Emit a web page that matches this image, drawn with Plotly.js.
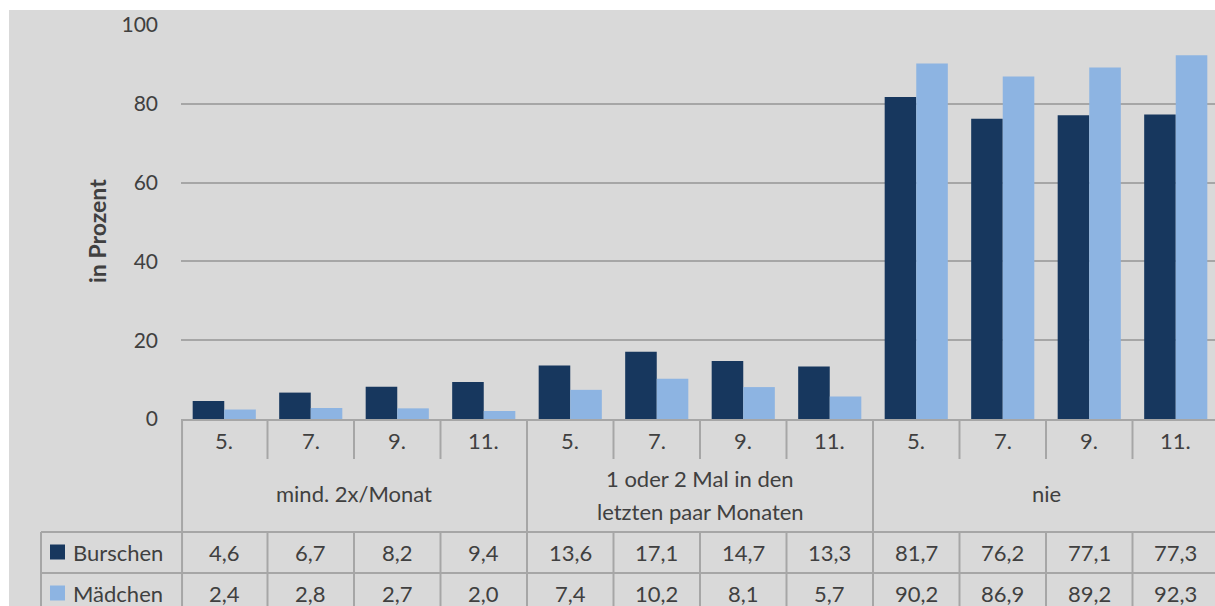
<!DOCTYPE html>
<html>
<head>
<meta charset="utf-8">
<script src="https://cdn.plot.ly/plotly-3.0.1.min.js"></script>
<style>html,body{margin:0;padding:0;background:#fff;}#chart{width:1215px;height:606px;}</style>
</head>
<body>
<div id="chart"></div>
<script>
// ---- data ----
const grades = ["5.", "7.", "9.", "11."];
const groups = ["mind. 2x/Monat", "1 oder 2 Mal in den<br>letzten paar Monaten", "nie"];
const seriesNames = ["Burschen", "Mädchen"];
const burschen = [4.6, 6.7, 8.2, 9.4, 13.6, 17.1, 14.7, 13.3, 81.7, 76.2, 77.1, 77.3];
const maedchen = [2.4, 2.8, 2.7, 2.0, 7.4, 10.2, 8.1, 5.7, 90.2, 86.9, 89.2, 92.3];
const yTicks = [0, 20, 40, 60, 80, 100];

// ---- style ----
const W = 1215, H = 606;
const ML = 181, MT = 25, MB = 187;
const plotW = W - ML, plotH = H - MT - MB;
const colW = 86.5;
const darkBlue = "#17375e", lightBlue = "#8db4e2";
const bg = "#d9d9d9", lineCol = "#a6a6a6", textCol = "#404040";
const FONT = "Lato, 'Open Sans', sans-serif";
const FS = 22;
const FS_TICK = 21;

const px = v => (v - ML) / plotW;         // pixel x -> paper x
const py = v => (MT + plotH - v) / plotH; // pixel y -> paper y

const n = burschen.length;
const xs = burschen.map((_, i) => i);
const fmt = v => v.toFixed(1).replace(".", ",");

const traces = [
  {type: "bar", name: seriesNames[0], x: xs, y: burschen, marker: {color: darkBlue}, hoverinfo: "y"},
  {type: "bar", name: seriesNames[1], x: xs, y: maedchen, marker: {color: lightBlue}, hoverinfo: "y"}
];

const shapes = [];
const annotations = [];

// background panel
shapes.push({type: "rect", xref: "paper", yref: "paper", layer: "below",
  x0: px(9), x1: 1.01, y0: py(H + 5), y1: py(10), fillcolor: bg, line: {width: 0}});

// table row separators
[532, 573].forEach(yy => shapes.push({type: "line", xref: "paper", yref: "paper",
  x0: px(41), x1: 1.01, y0: py(yy), y1: py(yy), line: {color: lineCol, width: 2}}));
// legend column left edge
shapes.push({type: "line", xref: "paper", yref: "paper", x0: px(41), x1: px(41),
  y0: py(532), y1: py(H + 5), line: {color: lineCol, width: 2}});
// left edge of category table
shapes.push({type: "line", xref: "paper", yref: "paper", x0: 0.001, x1: 0.001,
  y0: 0, y1: py(H + 5), line: {color: lineCol, width: 2}});
// column boundaries
for (let b = 1; b < n; b++) {
  const isGroup = b % grades.length === 0;
  const xb = b - 0.5;
  if (isGroup) {
    shapes.push({type: "line", xref: "x", yref: "paper", x0: xb, x1: xb, y0: 0, y1: py(H + 5),
      line: {color: lineCol, width: 2}});
  } else {
    shapes.push({type: "line", xref: "x", yref: "paper", x0: xb, x1: xb, y0: 0, y1: py(459),
      line: {color: lineCol, width: 2}});
    shapes.push({type: "line", xref: "x", yref: "paper", x0: xb, x1: xb, y0: py(532), y1: py(H + 5),
      line: {color: lineCol, width: 2}});
  }
}

const txt = (text, x, y, extra) => Object.assign({
  text: text, x: x, y: y, xref: "x", yref: "paper", showarrow: false,
  xanchor: "center", yanchor: "middle", font: {family: FONT, size: FS, color: textCol}
}, extra || {});

// grade labels
xs.forEach(i => annotations.push(txt(grades[i % grades.length], i, py(440))));
// group labels
groups.forEach((g, gi) => {
  const cx = gi * grades.length + (grades.length - 1) / 2;
  const lines = g.split("<br>");
  if (lines.length === 1) {
    annotations.push(txt(lines[0], cx, py(493)));
  } else {
    annotations.push(txt(lines[0], cx, py(478)));
    annotations.push(txt(lines[1], cx, py(511)));
  }
});
// values
xs.forEach(i => {
  annotations.push(txt(fmt(burschen[i]), i, py(552)));
  annotations.push(txt(fmt(maedchen[i]), i, py(593)));
});
// legend keys
[[darkBlue, 552, seriesNames[0]], [lightBlue, 593, seriesNames[1]]].forEach(([c, yy, name]) => {
  shapes.push({type: "rect", xref: "paper", yref: "paper", x0: px(50), x1: px(65),
    y0: py(yy + 7.5), y1: py(yy - 7.5), fillcolor: c, line: {width: 0}});
  annotations.push(txt(name, px(71), py(yy), {xref: "paper", xanchor: "left"}));
});
// y axis title
annotations.push(txt("<b>in Prozent</b>", px(97), py(231),
  {xref: "paper", textangle: -90, font: {family: FONT, size: 23, color: textCol}}));

const layout = {
  width: W, height: H,
  margin: {l: ML, r: 0, t: MT, b: MB, pad: 0},
  paper_bgcolor: "#ffffff",
  plot_bgcolor: bg,
  showlegend: false,
  barmode: "group",
  bargap: 0.27,
  bargroupgap: 0,
  font: {family: FONT, size: FS, color: textCol},
  xaxis: {
    range: [-0.5, -0.5 + plotW / colW],
    showticklabels: false, showgrid: false, zeroline: false,
    showline: true, linecolor: lineCol, linewidth: 2, ticks: "", fixedrange: true
  },
  yaxis: {
    range: [0, 100], tickvals: yTicks, ticktext: yTicks.map(String),
    showgrid: true, gridcolor: lineCol, gridwidth: 2,
    zeroline: false, showline: false, ticks: "",
    ticklabelstandoff: 22,
    tickfont: {family: FONT, size: FS_TICK, color: textCol}, fixedrange: true
  },
  shapes: shapes,
  annotations: annotations
};

Plotly.newPlot("chart", traces, layout, {displayModeBar: false, staticPlot: true});
</script>
</body>
</html>
